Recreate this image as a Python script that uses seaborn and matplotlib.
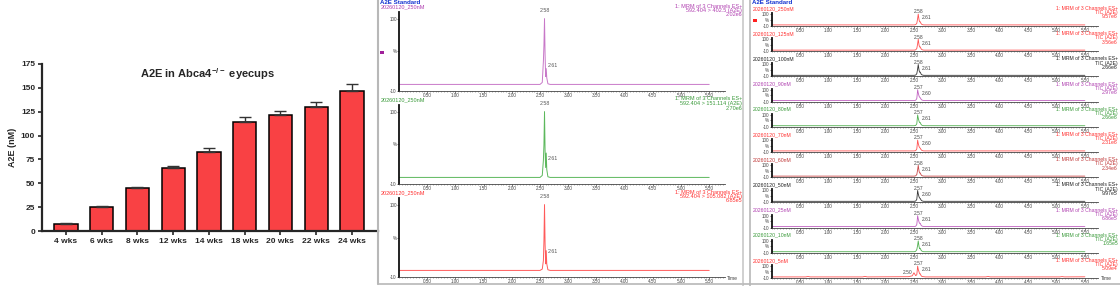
import numpy as np
import pandas as pd
import matplotlib
matplotlib.use("Agg")
import matplotlib.pyplot as plt
import seaborn as sns
from matplotlib.lines import Line2D
from matplotlib.patches import Rectangle
from matplotlib.ticker import MultipleLocator

# ---------------- data: bar chart ----------------
ages = ["4 wks", "6 wks", "8 wks", "12 wks", "14 wks", "18 wks", "20 wks", "22 wks", "24 wks"]
a2e_mean = [7.0, 25.6, 44.8, 65.5, 83.3, 113.8, 121.1, 129.5, 146.3]
a2e_err = [1.0, 1.0, 1.8, 2.4, 3.9, 5.6, 4.9, 5.2, 7.4]
bar_yticks = [0, 25, 50, 75, 100, 125, 150, 175]

# ---------------- data: middle chromatograms ----------------
mid_names = ["20260120_250nM", "20260120_250nM", "20260120_250nM"]
mid_channels = ["592.404 > 402.5 (A2E)", "592.404 > 151.114 (A2E)", "592.404 > 105.082 (A2E)"]
mid_scale = ["2.02e6", "2.70e6", "6.85e5"]
mid_time = [0.00, 2.50, 2.54, 2.56, 2.57, 2.58, 2.59, 2.60, 2.61, 2.62, 2.64, 2.68, 5.50]
mid_purple = [0, 0, 3, 35, 60, 100, 45, 12, 24, 10, 1, 0, 0]
mid_green = [0, 0, 3, 26, 50, 100, 40, 15, 37, 12, 1, 0, 0]
mid_red = [0, 0, 2, 15, 45, 100, 40, 10, 30, 10, 1, 0, 0]
mid_peak1 = ["2.58", "2.58", "2.58"]
mid_peak2 = ["2.61", "2.61", "2.61"]

# ---------------- data: right stacked TIC chromatograms ----------------
r_names = ["20260120_250nM", "20260120_125nM", "20260120_100nM", "20260120_90nM",
           "20260120_80nM", "20260120_70nM", "20260120_60nM", "20260120_50nM",
           "20260120_25nM", "20260120_10nM", "20260120_5nM"]
r_scale = ["9.57e6", "3.56e6", "2.66e6", "2.97e6", "2.66e6", "2.31e6",
           "2.34e6", "9.97e5", "6.86e5", "1.65e5", "5.09e4"]
r_peak1 = ["2.58", "2.58", "2.58", "2.57", "2.57", "2.57", "2.58", "2.57", "2.57", "2.58", "2.57"]
r_peak2 = ["2.61", "2.61", "2.61", "2.60", "2.61", "2.60", "2.61", "2.60", "2.61", "2.61", "2.61"]
r_time = [0.00, 2.50, 2.53, 2.55, 2.565, 2.575, 2.59, 2.60, 2.61, 2.625, 2.64, 2.67, 5.50]
r_int = [
    [0, 0, 2, 15, 60, 100, 45, 28, 30, 12, 4, 0, 0],
    [0, 0, 2, 15, 60, 100, 45, 28, 30, 12, 4, 0, 0],
    [0, 0, 2, 15, 60, 100, 45, 28, 30, 12, 4, 0, 0],
    [0, 0, 2, 18, 100, 70, 40, 30, 26, 12, 4, 0, 0],
    [0, 0, 2, 18, 100, 70, 40, 28, 30, 12, 4, 0, 0],
    [0, 0, 2, 18, 100, 70, 40, 30, 26, 12, 4, 0, 0],
    [0, 0, 2, 15, 60, 100, 45, 28, 30, 12, 4, 0, 0],
    [0, 0, 2, 18, 100, 70, 40, 30, 26, 12, 4, 0, 0],
    [0, 0, 2, 18, 100, 70, 40, 28, 30, 12, 4, 0, 0],
    [0, 0, 3, 20, 60, 100, 45, 28, 32, 14, 5, 0, 0],
]
r5_time = [0.00, 0.60, 0.64, 0.68, 1.60, 1.64, 1.68, 2.40, 2.47, 2.50, 2.53, 2.55, 2.565,
           2.575, 2.59, 2.60, 2.61, 2.625, 2.64, 2.70, 3.76, 3.80, 3.84, 5.06, 5.10, 5.14, 5.50]
r5_int = [0, 0, 4, 0, 0, 5, 0, 2, 10, 38, 12, 20, 100, 70, 45, 28, 30, 12, 4, 0, 0, 4, 0, 0, 3, 0, 1]
time_ticks = [0.5, 1.0, 1.5, 2.0, 2.5, 3.0, 3.5, 4.0, 4.5, 5.0, 5.5]

# ---------------- style ----------------
sns.set_style("ticks")
plt.rcParams["font.family"] = ["Liberation Sans", "DejaVu Sans"]
plt.rcParams["mathtext.fontset"] = "custom"
plt.rcParams["mathtext.rm"] = "Liberation Sans"
plt.rcParams["mathtext.bf"] = "Liberation Sans:bold"

W, H = 1120, 286
fig = plt.figure(figsize=(W / 100, H / 100), dpi=100)
fig.patch.set_facecolor("white")


def px_axes(l, t, r, b):
    return fig.add_axes([l / W, 1 - b / H, (r - l) / W, (b - t) / H])


def ftext(x, y, s, **kw):
    return fig.text(x / W, 1 - y / H, s, **kw)


def fline(x0, y0, x1, y1, **kw):
    fig.add_artist(Line2D([x0 / W, x1 / W], [1 - y0 / H, 1 - y1 / H], transform=fig.transFigure, **kw))


def frect(x, y, w, h, c):
    fig.add_artist(Rectangle((x / W, 1 - (y + h) / H), w / W, h / H, transform=fig.transFigure,
                             facecolor=c, edgecolor="none"))


# ---------------- bar chart ----------------
axb = px_axes(42, 64, 378, 231)
df = pd.DataFrame({"age": ages, "a2e": a2e_mean})
sns.barplot(data=df, x="age", y="a2e", color="#f94144", saturation=1, width=0.65,
            edgecolor="black", linewidth=1.1, errorbar=None, ax=axb, zorder=2)
xpos = np.arange(len(ages))
axb.errorbar(xpos, a2e_mean, yerr=[np.zeros(len(ages)), a2e_err], fmt="none",
             ecolor="#333333", elinewidth=1.0, capsize=4.5, capthick=1.0, zorder=3)
axb.set_xlim(-0.67, 8.73)
axb.set_ylim(0, 175)
axb.set_yticks(bar_yticks)
sns.despine(ax=axb)
for s in ["left", "bottom"]:
    axb.spines[s].set_linewidth(1.6)
axb.tick_params(axis="both", length=3, width=1.2, labelsize=6, pad=2)
for lab in axb.get_xticklabels() + axb.get_yticklabels():
    lab.set_fontweight("bold")
axb.set_xlabel("")
axb.set_ylabel("A2E (nM)", fontsize=6.5, fontweight="bold")
axb.yaxis.set_label_coords(-0.075, 0.5)
ftext(207, 74, r"A2E in Abca4$^{\mathbf{-/-}}$ eyecups", ha="center", va="center",
      fontsize=8, fontweight="bold")

TFS = 3.3   # tick labels of the instrument traces
HFS_M = 4.0  # header text, middle panel
HFS_R = 3.7  # header text, right panel


def style_chrom(ax, xmax):
    ax.set_xlim(0, xmax)
    ax.set_ylim(-10, 110)
    ax.set_xticks(time_ticks)
    ax.set_xticklabels([f"{t:.2f}" for t in time_ticks])
    ax.xaxis.set_minor_locator(MultipleLocator(0.05))
    ax.set_yticks([-10, 50, 100])
    ax.set_yticklabels(["-10", "%", "100"])
    ax.patch.set_alpha(0)
    for s in ["top", "right"]:
        ax.spines[s].set_visible(False)
    ax.spines["left"].set_linewidth(1.3)
    ax.spines["left"].set_color("#111111")
    ax.spines["bottom"].set_linewidth(0.6)
    ax.spines["bottom"].set_color("#444444")
    ax.tick_params(axis="x", which="major", length=1.2, width=0.5, labelsize=TFS,
                   pad=0.2, colors="#444444")
    ax.tick_params(axis="x", which="minor", length=0.8, width=0.4, colors="#666666")
    ax.tick_params(axis="y", length=1.2, width=0.5, labelsize=TFS, pad=0.4, colors="#444444")
    ax.set_xlabel("")
    ax.set_ylabel("")


# ---------------- middle panel ----------------
mid_series = [mid_purple, mid_green, mid_red]
mid_txt_cols = ["#b040b0", "#3a9a3a", "#ff3030"]
mid_line_cols = ["#c878c8", "#5cb85c", "#ff5a5a"]
ftext(380, 2.0, "A2E Standard", ha="left", va="center", fontsize=4.4, fontweight="bold", color="#1030d0")
for i in range(3):
    b = 91 + 93 * i
    ax = px_axes(399, b - 79, 725, b)
    sns.lineplot(x=mid_time, y=mid_series[i], ax=ax, color=mid_line_cols[i], linewidth=0.7,
                 estimator=None, sort=False, legend=False)
    style_chrom(ax, 5.78)
    ax.text(2.58, 113, mid_peak1[i], ha="center", va="center", fontsize=3.8, color="#555555", clip_on=False)
    ax.text(2.63, 28, mid_peak2[i], ha="left", va="center", fontsize=3.8, color="#555555", clip_on=False)
    hy = 6.0 + 93 * i
    ftext(381, hy + 0.8, mid_names[i], ha="left", va="center", fontsize=HFS_M, color=mid_txt_cols[i])
    ftext(742, hy, "1: MRM of 3 Channels ES+", ha="right", va="center", fontsize=HFS_M, color=mid_txt_cols[i])
    ftext(742, hy + 4.5, mid_channels[i], ha="right", va="center", fontsize=HFS_M, color=mid_txt_cols[i])
    ftext(742, hy + 9.0, mid_scale[i], ha="right", va="center", fontsize=HFS_M, color=mid_txt_cols[i])
ftext(727, 279, "Time", ha="left", va="center", fontsize=3.6, color="#444444")
frect(380, 51, 4, 2.5, "#a0209a")
fline(378, 0, 378, 284, color="#b8b8b8", linewidth=1.5)
fline(378, 284, 742, 284, color="#b8b8b8", linewidth=1.2)

# ---------------- right panel ----------------
r_txt_cols = ["#ff3030", "#ff3030", "#222222", "#b040b0", "#3a9a3a", "#ff3030",
              "#c03838", "#222222", "#b040b0", "#3a9a3a", "#ff3030"]
r_line_cols = ["#ff5050", "#ff5050", "#333333", "#c060c0", "#50b050", "#ff5050",
               "#c84848", "#333333", "#c060c0", "#50b050", "#ff5050"]
ftext(752, 2.2, "A2E Standard", ha="left", va="center", fontsize=4.4, fontweight="bold", color="#1030d0")
for i in range(11):
    b = 26 + 25.2 * i
    ax = px_axes(771.5, b - 13, 1098, b)
    if i < 10:
        t, v = r_time, r_int[i]
    else:
        t, v = r5_time, r5_int
    sns.lineplot(x=t, y=v, ax=ax, color=r_line_cols[i], linewidth=0.6,
                 estimator=None, sort=False, legend=False)
    style_chrom(ax, 5.73)
    ax.text(2.575, 121, r_peak1[i], ha="center", va="center", fontsize=3.5, color="#444444", clip_on=False)
    ax.text(2.63, 64, r_peak2[i], ha="left", va="center", fontsize=3.5, color="#444444", clip_on=False)
    if i == 10:
        ax.text(2.47, 45, "2.50", ha="right", va="center", fontsize=3.5, color="#444444", clip_on=False)
    hy = b - 17.6
    ftext(753, hy, r_names[i], ha="left", va="center", fontsize=HFS_R, color=r_txt_cols[i])
    ftext(1118, hy, "1: MRM of 3 Channels ES+", ha="right", va="center", fontsize=HFS_R, color=r_txt_cols[i])
    ftext(1118, hy + 4.2, "TIC (A2E)", ha="right", va="center", fontsize=HFS_R, color=r_txt_cols[i])
    ftext(1118, hy + 8.4, r_scale[i], ha="right", va="center", fontsize=HFS_R, color=r_txt_cols[i])
ftext(1101, 279, "Time", ha="left", va="center", fontsize=3.6, color="#444444")
frect(753, 19, 4, 2.5, "#ff2020")
fline(743, 0, 743, 286, color="#c8c8c8", linewidth=1.2)
fline(750, 0, 750, 286, color="#b8b8b8", linewidth=1.2)
fline(743, 284, 1120, 284, color="#b8b8b8", linewidth=1.2)

fig.savefig("out.png", dpi=100)
